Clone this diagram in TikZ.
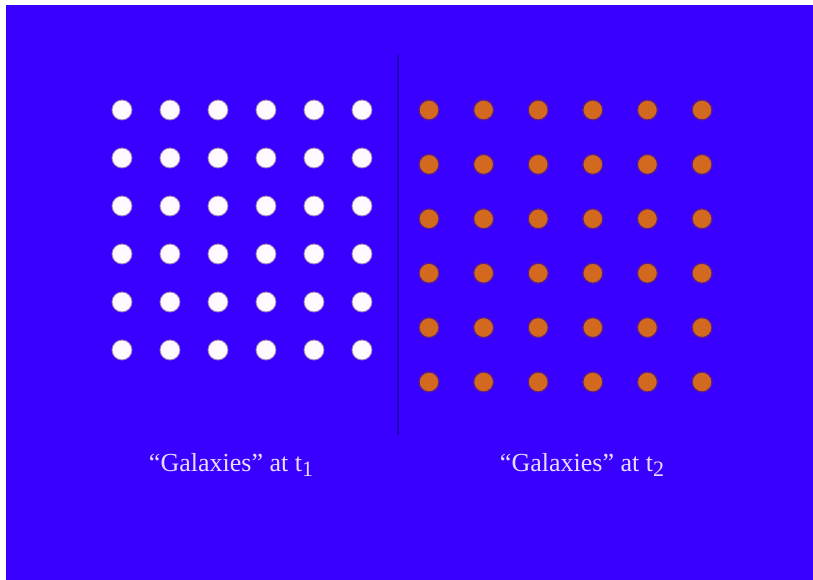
\documentclass[tikz,border=0pt]{standalone}
\usepackage{fontspec}
\setmainfont{Liberation Serif}
\usetikzlibrary{positioning,calc}

\definecolor{slideblue}{HTML}{3A00FF}
\definecolor{divider}{HTML}{2400B4}
\definecolor{galwhite}{HTML}{FFFAFF}
\definecolor{galorange}{HTML}{D2691E}
\definecolor{galrim}{HTML}{5A1E8C}
\definecolor{labeltext}{HTML}{E6DEFF}

\tikzset{
  whitegal/.style={circle, fill=galwhite, draw=galrim!60, line width=0.8pt, minimum size=20pt, inner sep=0pt},
  orangegal/.style={circle, fill=galorange, draw=galrim, line width=1.2pt, minimum size=20pt, inner sep=0pt},
  caption/.style={text=labeltext, font=\fontsize{26}{30}\selectfont, inner sep=0pt}
}

\newcommand{\subt}[1]{t\raisebox{-0.35ex}{\fontsize{22}{22}\selectfont #1}}

\begin{document}
\begin{tikzpicture}[x=1pt, y=-1pt]
                % Page and slide background
                \useasboundingbox (0,0) rectangle (813,580);
                \fill[white] (0,0) rectangle (813,580);
                \fill[slideblue] (6,5) rectangle (813,580);

                % Divider between the two epochs
                \coordinate (divtop) at (398,55);
                \coordinate (divbot) at (398,435);
                \draw[divider, line width=2pt] (divtop) -- (divbot);

                % Galaxies at t1 (white, spacing 48)
                \foreach \i in {0,...,5} {
                    \foreach \j in {0,...,5} {
                        \node[whitegal] (w-\i-\j) at ({122+48*\i}, {110+48*\j}) {};
                    }
                }

                % Galaxies at t2 (orange, spacing 54.6)
                \foreach \i in {0,...,5} {
                    \foreach \j in {0,...,5} {
                        \node[orangegal] (o-\i-\j) at ({429+54.6*\i}, {110+54.4*\j}) {};
                    }
                }

                % Captions
                \node[caption] (capone) at (231,465) {``Galaxies'' at \subt{1}};
                \node[caption] (captwo) at (582,465) {``Galaxies'' at \subt{2}};
            \end{tikzpicture}
\end{document}
